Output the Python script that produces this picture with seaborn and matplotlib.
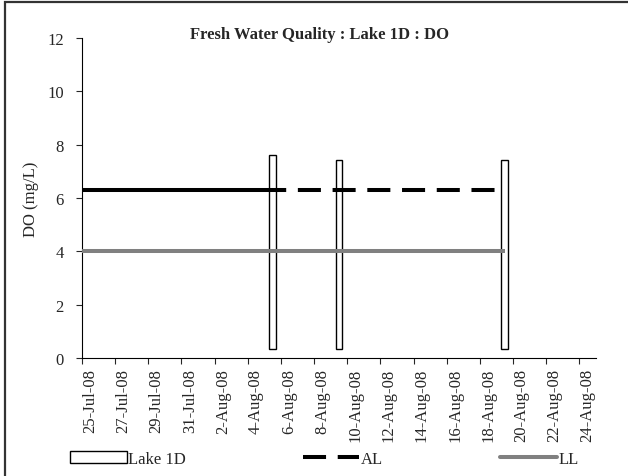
import pandas as pd
import numpy as np
import matplotlib.pyplot as plt
import matplotlib.patches as mpatches
import matplotlib.lines as mlines
import seaborn as sns

# ------- Data -------------------
sample_dates = ['2008-08-05', '2008-08-09', '2008-08-19']
do_values    = [7.62, 7.44, 7.44]     # DO (mg/L), top of each bar
do_floor     = [0.33, 0.33, 0.33]     # bars start slightly above zero

al_solid_dates = ['2008-07-24', '2008-08-05']
al_dash_dates  = ['2008-08-05', '2008-08-19']
al_level       = 6.3
ll_dates       = ['2008-07-24', '2008-08-19']
ll_level       = 4.0

axis_start, axis_end = '2008-07-25', '2008-08-24'
y_ticks = [0, 2, 4, 6, 8, 10, 12]

# ------- Style -------------------
sns.set_style('white')
plt.rcParams['font.family'] = ['Liberation Serif', 'DejaVu Serif']
plt.rcParams['lines.scale_dashes'] = False
FS = 12
LW = 2.9

fig = plt.figure(figsize=(6.28, 4.77), dpi=100)
ax = fig.add_axes([82 / 628, 1 - 359 / 477, (596 - 82) / 628, (359 - 39) / 477])

half_day = pd.Timedelta(hours=12)
x_lo = pd.Timestamp(axis_start) - half_day
x_hi = pd.Timestamp(axis_end) + half_day

# bars
bar_x = pd.to_datetime(sample_dates)
heights = np.array(do_values) - np.array(do_floor)
ax.bar(bar_x, heights, bottom=do_floor, width=0.4, color='white',
       edgecolor='black', linewidth=1.0, zorder=2)

# guideline levels
al_solid = pd.DataFrame({'date': pd.to_datetime(al_solid_dates), 'v': al_level})
al_dash  = pd.DataFrame({'date': pd.to_datetime(al_dash_dates), 'v': al_level})
ll_df    = pd.DataFrame({'date': pd.to_datetime(ll_dates), 'v': ll_level})

sns.lineplot(data=ll_df, x='date', y='v', ax=ax, color='#808080', legend=False,
             linewidth=LW, solid_capstyle='butt', zorder=3)
sns.lineplot(data=al_solid, x='date', y='v', ax=ax, color='black', legend=False,
             linewidth=LW, solid_capstyle='butt', zorder=3)
sns.lineplot(data=al_dash, x='date', y='v', ax=ax, color='black', legend=False,
             linewidth=LW, linestyle=(7.1, (16.6, 8.4)),
             dash_capstyle='butt', zorder=3)

# axes
ax.set_xlim(x_lo, x_hi)
ax.set_ylim(0, 12)
ax.set_yticks(y_ticks)
ax.tick_params(axis='y', labelsize=FS, length=4, width=0.8, direction='out',
               left=True, pad=9)

label_days = pd.date_range(axis_start, axis_end, freq='2D')
ax.set_xticks(label_days)
ax.set_xticklabels([f"{d.day}-{d.strftime('%b')}-08" for d in label_days],
                   rotation=90, fontsize=FS)
ax.tick_params(axis='x', which='major', length=0, pad=7)
ax.set_xticks(label_days - half_day, minor=True)
ax.tick_params(axis='x', which='minor', length=4, width=0.8, direction='out',
               bottom=True)

ax.set_xlabel('')
ax.set_ylabel('DO (mg/L)', fontsize=FS, labelpad=6)
for side in ['top', 'right']:
    ax.spines[side].set_visible(False)
for side in ['left', 'bottom']:
    ax.spines[side].set_color('black')
    ax.spines[side].set_linewidth(0.8)

fig.text(320 / 628, 1 - 35 / 477, 'Fresh Water Quality : Lake 1D : DO',
         ha='center', va='center', fontsize=FS, fontweight='bold')

# legend
handles = [
    mpatches.Patch(facecolor='white', edgecolor='black', linewidth=1.0, label='Lake 1D'),
    mlines.Line2D([], [], color='black', linewidth=LW, linestyle=(0, (16.6, 8.4)), label='AL'),
    mlines.Line2D([], [], color='#808080', linewidth=LW, label='LL'),
]
fig.legend(handles=handles, loc='lower left', bbox_to_anchor=(70 / 628, 1 - 468 / 477),
           ncol=3, frameon=False, fontsize=FS, handlelength=3.4, handletextpad=0.1,
           columnspacing=7.0, borderpad=0, borderaxespad=0)

# chart border (only the top and left edges show in the crop)
fig.patches.append(mpatches.Rectangle((5 / 628, -0.2), 1.2, 1.2 - 3 / 477,
                                      transform=fig.transFigure, fill=False,
                                      edgecolor='#333333', linewidth=1.6))

plt.savefig('out.png', dpi=100)
plt.close()
